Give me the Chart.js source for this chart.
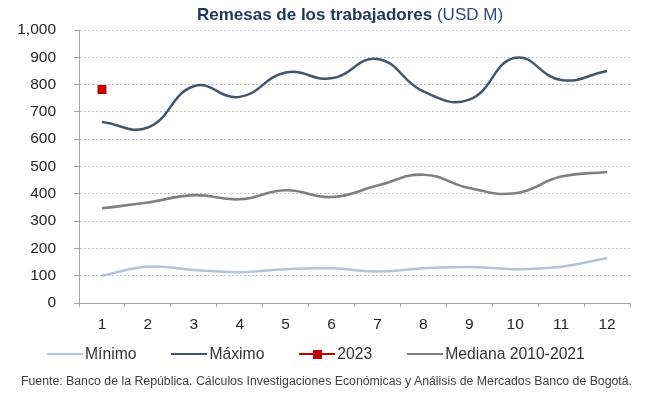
<!DOCTYPE html>
<html>
<head>
<meta charset="utf-8">
<script src="https://cdn.jsdelivr.net/npm/chart.js@4.4.0/dist/chart.umd.min.js"></script>
<style>
  body { margin: 0; background: #fff; }
  #wrap { position: relative; width: 649px; height: 397px; font-family: "Liberation Sans", Arial, sans-serif; }
  #myChart { position: absolute; left: 0; top: 0; }
  #titulo { position: absolute; left: 0; width: 700px; top: 5px; text-align: center; font-size: 17px; color: #1f3864; white-space: nowrap; }
  #titulo b { font-weight: bold; }
  #titulo span { color: #2e4a7d; }
  #leyenda { position: absolute; left: 47px; top: 345px; display: flex; align-items: center; font-size: 15.7px; color: #333333; white-space: nowrap; }
  .item { display: flex; align-items: center; margin-right: 35px; }
  .linea { position: relative; width: 36px; height: 2.5px; margin-right: 2px; }
  .cuadro { position: absolute; left: 14px; top: -3px; width: 9px; height: 9px; background: #c00000; }
  #fuente { position: absolute; left: 0; width: 653px; top: 374px; text-align: center; font-size: 12.3px; color: #404040; white-space: nowrap; }
</style>
</head>
<body>
<div id="wrap">
  <canvas id="myChart" width="649" height="397"></canvas>
  <div id="titulo"><b>Remesas de los trabajadores</b> <span>(USD M)</span></div>
  <div id="leyenda"></div>
  <div id="fuente">Fuente: Banco de la República. Cálculos Investigaciones Económicas y Análisis de Mercados Banco de Bogotá.</div>
</div>
<script>
// datos
const meses = ['1', '2', '3', '4', '5', '6', '7', '8', '9', '10', '11', '12'];
const minimo = [100, 133, 121, 113, 124, 127, 115, 127, 132, 124, 133, 165];
const maximo = [663, 643, 794, 755, 844, 823, 894, 775, 745, 898, 817, 850];
const anio2023 = [782, null, null, null, null, null, null, null, null, null, null, null];
const mediana = [347, 368, 395, 380, 413, 388, 430, 470, 421, 402, 463, 480];

const colMin = '#b5c2d7';
const colMax = '#44546a';
const colRojo = '#c00000';
const colMed = '#7f7f7f';

// leyenda en html
const items = [
  { txt: 'Mínimo', color: colMin },
  { txt: 'Máximo', color: colMax },
  { txt: '2023', color: colRojo, marca: true },
  { txt: 'Mediana 2010-2021', color: colMed }
];
const leyenda = document.getElementById('leyenda');
items.forEach(it => {
  let d = document.createElement('div');
  d.className = 'item';
  d.innerHTML = '<div class="linea" style="background:' + it.color + '">' +
    (it.marca ? '<div class="cuadro"></div>' : '') + '</div><div>' + it.txt + '</div>';
  leyenda.appendChild(d);
});

const ctx = document.getElementById('myChart');

new Chart(ctx, {
  type: 'line',
  data: {
    labels: meses,
    datasets: [
      { label: 'Mínimo', data: minimo, borderColor: colMin, borderWidth: 2.5, pointRadius: 0, tension: 0.45 },
      { label: 'Máximo', data: maximo, borderColor: colMax, borderWidth: 2.5, pointRadius: 0, tension: 0.45 },
      { label: '2023', data: anio2023, borderColor: colRojo, backgroundColor: colRojo, showLine: false,
        pointStyle: 'rect', pointRadius: 6.3, borderWidth: 0 },
      { label: 'Mediana 2010-2021', data: mediana, borderColor: colMed, borderWidth: 2.6, pointRadius: 0, tension: 0.45 }
    ]
  },
  options: {
    responsive: false,
    animation: false,
    layout: { padding: { top: 30, right: 19, left: 0, bottom: 64 } },
    plugins: {
      legend: { display: false },
      tooltip: { enabled: false }
    },
    scales: {
      x: {
        offset: true,
        afterFit: s => { s.height = 30; },
        grid: { offset: true, drawOnChartArea: false, tickLength: 4, tickColor: '#a6a6a6' },
        border: { color: '#a6a6a6', width: 1 },
        ticks: { font: { family: 'Liberation Sans', size: 15.5 }, color: '#262626', padding: 8 }
      },
      y: {
        min: 0,
        max: 1000,
        afterFit: s => { s.width = 79; },
        grid: { color: '#c4c4c4', tickLength: 5, tickColor: '#a6a6a6' },
        border: { color: '#a6a6a6', width: 1, dash: [2, 2] },
        ticks: {
          stepSize: 100,
          font: { family: 'Liberation Sans', size: 15.5 },
          color: '#262626',
          padding: 18,
          callback: v => v.toLocaleString('en-US')
        }
      }
    }
  }
});
</script>
</body>
</html>
